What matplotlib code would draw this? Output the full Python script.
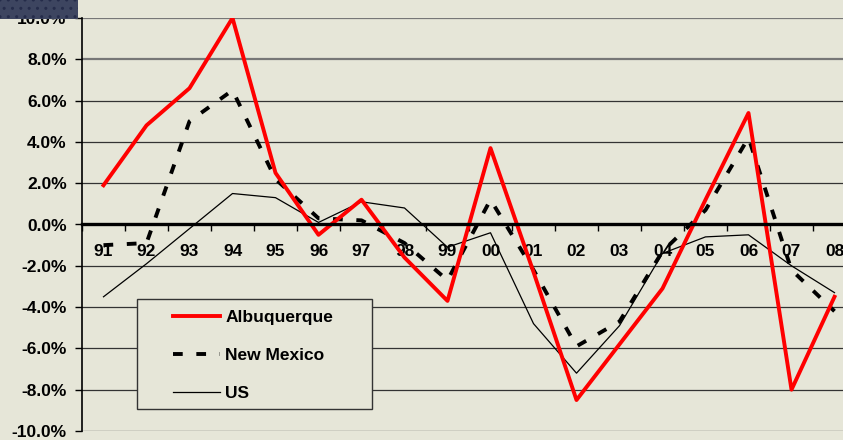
import matplotlib.pyplot as plt
from matplotlib.patches import Rectangle
from matplotlib.ticker import FixedLocator, FuncFormatter

# year-over-year change, percent
years = ['91', '92', '93', '94', '95', '96', '97', '98', '99', '00',
         '01', '02', '03', '04', '05', '06', '07', '08']
albuquerque = [1.9, 4.8, 6.6, 10.0, 2.5, -0.5, 1.2, -1.6, -3.7, 3.7,
               -2.3, -8.5, -5.8, -3.1, 1.2, 5.4, -8.0, -3.5]
new_mexico = [-1.0, -0.9, 5.0, 6.5, 2.2, 0.3, 0.2, -0.9, -2.7, 1.2,
              -2.2, -5.9, -4.7, -1.3, 0.7, 4.2, -2.2, -4.2]
us = [-3.5, -1.9, -0.2, 1.5, 1.3, 0.1, 1.1, 0.8, -1.1, -0.4,
      -4.8, -7.2, -4.9, -1.4, -0.6, -0.5, -2.0, -3.3]
y_ticks = [-10, -8, -6, -4, -2, 0, 2, 4, 6, 8, 10]

bg = '#e6e6d8'
font = ['Liberation Sans', 'DejaVu Sans']
fsize = 12.5

fig = plt.figure(figsize=(8.43, 4.4), dpi=100, facecolor=bg)

# dark patch in the top-left corner
fig.patches.append(Rectangle((0, 1 - 19 / 440), 78 / 843, 19 / 440,
                             transform=fig.transFigure, facecolor='#3d4560',
                             edgecolor='#252c4a', hatch='..', lw=0, zorder=0))

ax = fig.add_axes([82 / 843, 9 / 440, 774 / 843, 413 / 440])
ax.set_facecolor(bg)

x = list(range(len(years)))
ax.plot(x, albuquerque, color='#ff0000', lw=2.8, label='Albuquerque', zorder=4)
ax.plot(x, new_mexico, color='black', lw=2.8, dashes=(2.5, 3.5),
        label='New Mexico', zorder=3)
ax.plot(x, us, color='black', lw=0.9, label='US', zorder=2)

ax.set_xlim(-0.5, len(years) - 0.5)
ax.set_ylim(-10, 10)

# gridlines
for v in y_ticks:
    if v == 0:
        continue
    if v >= 8:
        ax.axhline(v, color='#777777', lw=1.6, zorder=1)
    else:
        ax.axhline(v, color='#333333', lw=0.9, zorder=1)

ax.spines['top'].set_visible(False)
ax.spines['right'].set_visible(False)
ax.spines['left'].set_linewidth(1.2)
ax.spines['bottom'].set_position(('data', 0))
ax.spines['bottom'].set_linewidth(2.4)
ax.spines['bottom'].set_zorder(5)

ax.set_yticks(y_ticks)
ax.yaxis.set_major_formatter(FuncFormatter(lambda v, p: f'{v:.1f}%'))
ax.tick_params(axis='y', direction='out', length=5, width=1, pad=6)

# tick marks between categories, labels at category centres
ax.xaxis.set_major_locator(FixedLocator([i - 0.5 for i in range(len(years) + 1)]))
ax.xaxis.set_major_formatter(FuncFormatter(lambda v, p: ''))
ax.xaxis.set_minor_locator(FixedLocator(x))
ax.set_xticklabels(years, minor=True)
ax.tick_params(axis='x', which='major', direction='out', length=5, width=1)
ax.tick_params(axis='x', which='minor', length=0, pad=14)

for lab in ax.get_yticklabels() + ax.get_xticklabels(minor=True):
    lab.set_fontfamily(font)
    lab.set_fontweight('bold')
    lab.set_fontsize(fsize)

# legend box
ax.add_patch(Rectangle((55 / 774, 22 / 413), 235 / 774, 110 / 413,
                       transform=ax.transAxes, facecolor=bg,
                       edgecolor='#333333', lw=1, zorder=6))
leg = ax.legend(loc='upper left', bbox_to_anchor=(91 / 774, 121 / 413),
                frameon=False, borderpad=0, borderaxespad=0,
                handlelength=2.7, handletextpad=0.3, labelspacing=1.3,
                prop={'family': font, 'weight': 'bold', 'size': fsize})
leg.set_zorder(7)

plt.savefig('out.png', dpi=100, facecolor=bg)
